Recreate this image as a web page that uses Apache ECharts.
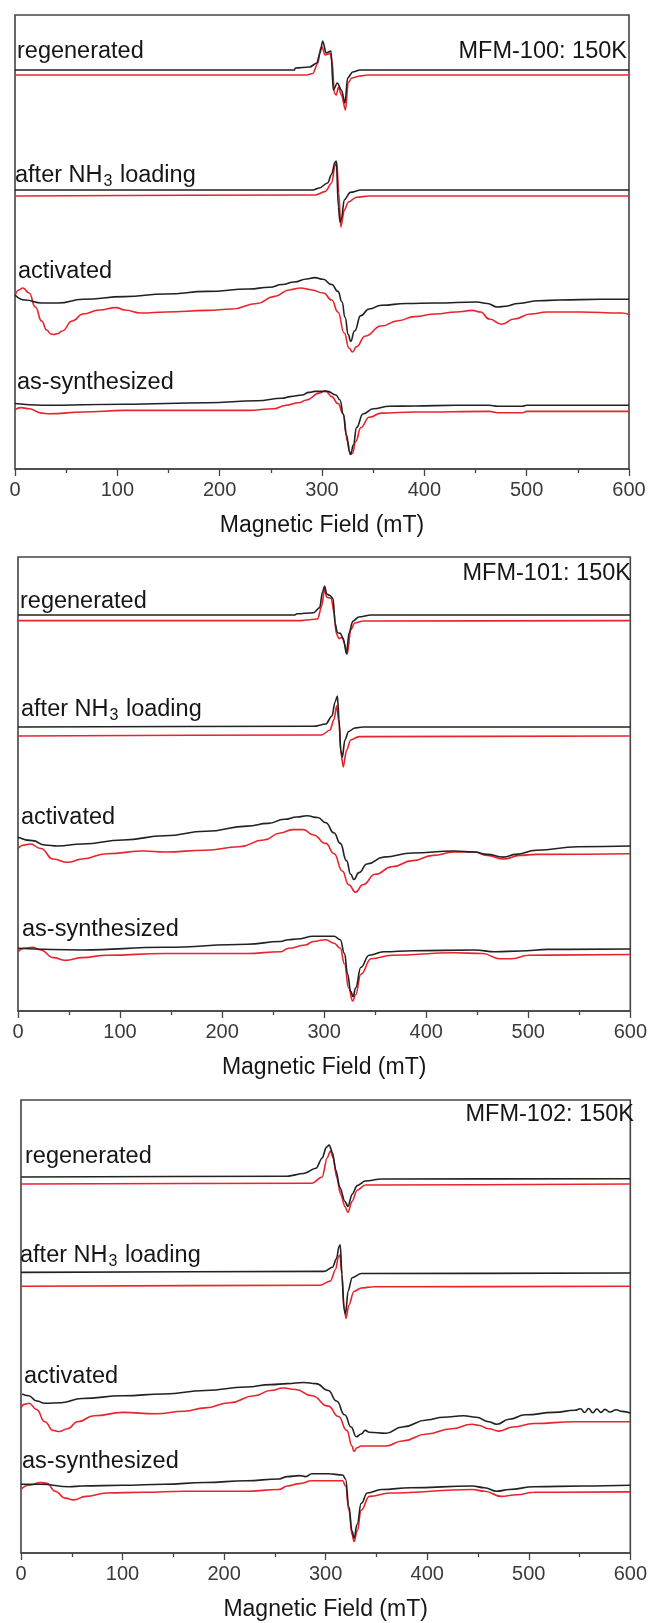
<!DOCTYPE html>
<html>
<head>
<meta charset="utf-8">
<script src="https://cdn.jsdelivr.net/npm/echarts@6/dist/echarts.min.js"></script>
<style>
  html, body { margin: 0; padding: 0; background: #ffffff; }
  #chart { width: 650px; height: 1623px; }
</style>
</head>
<body>
<div id="chart"></div>
<script>
// EPR spectra at 150 K, x = magnetic field (mT), y = offset first-derivative intensity (a.u.)
const fieldTicks = [0, 100, 200, 300, 400, 500, 600];
const stateLabels = ['regenerated', 'after NH{s|3} loading', 'activated', 'as-synthesized'];
const panelTitles = ['MFM-100: 150K', 'MFM-101: 150K', 'MFM-102: 150K'];

// ---- MFM-100 ----
const mfm100RegenBlack = [[0,399],[273,399],[274,401],[288,402],[295,406],[298,416],[300.7,428],[304,416],[308.8,418],[311,379],[315,386],[319,379],[322.5,366],[325,391],[330,397],[337,399],[600,399]];
const mfm100RegenRed = [[0,394],[285,394],[291,395.5],[296,406],[298.7,421],[300,422],[303,414],[308,415.5],[310,407],[312,376],[314,374],[316,382],[319,374],[323,359],[325.5,386],[329,391],[337,393],[345,394],[600,394]];
const mfm100NH3Black = [[0,279],[291,279],[297.4,281],[305.5,286],[309.5,295],[312.7,307],[314,308],[316,262],[317.6,247],[319,250],[321.7,269],[327.7,276.6],[338,279],[600,279]];
const mfm100NH3Red = [[0,273],[293.3,274],[303.4,277.6],[309.5,286],[312.7,303],[314.4,307],[316.4,276],[318.4,242],[321.7,258.6],[325.7,267],[333.8,271.7],[346,273],[600,273]];
const mfm100ActBlack = [[0,174],[9.7,169],[26,166],[42,166],[66.4,169.7],[107,172.4],[147.5,175],[188,177.6],[228.5,180],[248.7,181.7],[261,184.5],[273,187],[285,190],[293,191.4],[301,189.7],[309.5,184.5],[315.6,177.6],[319.6,167],[322.5,151.7],[325.7,134.5],[328,127.6],[331.8,138],[337.9,153.4],[346,160],[358,163.8],[382.4,165.5],[410.8,166],[451.3,167],[461.4,165.5],[471.5,162],[479.6,162.8],[491.8,165.5],[512,168.3],[532.3,169],[572.8,169.7],[600,169.7]];
const mfm100ActRed = [[0,173],[3.6,179],[7.7,181],[13.8,176],[19.9,162],[26,148],[31,139],[35,135],[38,134.5],[42,135.5],[46,138],[56,148],[66.4,155],[82.6,159],[98.8,161.4],[107,159],[123,156],[147.5,157],[188,158.6],[212,160],[236.6,165.5],[252.8,172.4],[269,179.3],[279,181],[289,179.3],[301.4,176],[309.5,169],[315.6,157],[321.7,136],[326.5,120.7],[329.8,117],[333.8,122.4],[342,132.8],[358,143],[374.3,148.3],[390.5,152.4],[410.8,155],[431,157],[447,158.6],[455,157],[463.4,150],[475.6,144.8],[487.7,150],[504,155],[520,157],[552.6,157],[593,156],[600,154.5]];
const mfm100SynBlack = [[0,65.5],[26,63.8],[107,64.8],[188,66.2],[236.6,68.3],[261,70.7],[269,72.4],[281,74],[287,76.6],[293,77.6],[305.5,77.6],[313.6,74],[317.6,69],[320.8,55],[323.7,34.5],[327,17.2],[328,14.5],[330.6,24],[333.8,41.4],[340,55],[350,60.3],[366,62.8],[390.5,63],[431,63.8],[463.4,63.8],[471.5,62.8],[495.8,62.8],[500,63.8],[600,63.8]];
const mfm100SynRed = [[0,59.3],[5.7,61.4],[13.8,60.3],[26,55.9],[34,55.2],[66.4,57],[107,58.6],[188,58.6],[228.5,58.6],[252.8,60.3],[265,63.8],[277,66.2],[285,69],[297.4,75.9],[303.4,78.3],[309.5,72.4],[315.6,65.5],[320.8,55],[324.9,27.6],[327.7,14.5],[329.8,15.5],[333,27.6],[337.9,41.4],[346,51.7],[358,55.9],[390.5,57],[463.4,57.6],[471.5,56.2],[495.8,56.2],[500,57.6],[600,57.6]];

// ---- MFM-101 ----
const mfm101RegenBlack = [[0,396],[271.3,396],[273.3,397.2],[289.5,398.3],[295.6,403.4],[298.4,419],[300.4,425],[302.5,417],[305.7,415.5],[308.9,412],[310.6,388],[313,378.3],[315.8,377.6],[318.7,372.5],[321.9,357],[324.3,377.6],[328,389.7],[334,394],[346,396],[600,396]];
const mfm101RegenRed = [[0,390.4],[277.4,390.4],[293.6,392],[297.6,405],[300.4,421.7],[302.5,413.8],[306.9,412.7],[309.7,398.3],[311.8,377.6],[314.6,372.5],[317.8,373.5],[319.9,367.3],[322.7,357],[326,381],[330,388],[338,390],[600,390.4]];
const mfm101NH3Black = [[0,284],[289.5,284.7],[301.6,287],[307.7,295],[310.6,308.8],[313,315],[314.6,291.6],[316.2,260.6],[317.8,253.7],[320.3,271],[323.9,279.5],[330,283],[338,284],[600,284]];
const mfm101NH3Red = [[0,275],[297.6,276],[305.7,281],[309.7,291.6],[312.2,305.3],[314.6,288],[316.6,257],[318.7,244],[321.9,260.6],[326,271],[334,274.4],[600,275]];
const mfm101ActBlack = [[0,173.8],[14.2,170.4],[26.3,166],[38.5,165],[62.8,167],[103,171],[143.7,175.2],[184,179.7],[224.7,184.9],[245,187.6],[261,191.7],[273.3,194],[283.4,195.2],[293.6,193.5],[301.6,188.3],[309.7,178],[315.8,167.6],[321.9,150.4],[326,136.7],[329.2,131.5],[334,138.4],[342,147],[358.3,153.9],[386.7,158],[427,160],[447.4,159],[459.6,156.6],[475.8,153.9],[488,156.6],[508,160.8],[548.6,164.2],[600,165]];
const mfm101ActRed = [[0,162.5],[6,166],[12,167],[22.3,162.5],[34.4,152],[48.6,148.7],[62.8,152],[87,157.3],[123.5,160],[143.7,159],[184,160.8],[216.6,164.2],[241,171],[257,178],[269,181.4],[279.4,181.4],[289.5,176],[301.6,167.6],[309.7,157.3],[317.8,140],[324,126.3],[330.8,118.8],[338,126.3],[350,136.7],[366.4,144.2],[386.7,150.4],[407,155.6],[427,159],[447.4,159],[459.6,155.6],[475.8,152],[492,155.6],[508,156.6],[600,157.3]];
const mfm101SynBlack = [[0,62.7],[62.8,61],[143.7,63.7],[224.7,66.8],[257,69.5],[265.2,71.3],[273.3,72],[289.5,74.7],[309.7,74.7],[315.8,71.3],[319.9,57.5],[323,36.8],[326,19.6],[328.4,14.5],[330.8,23],[336,43.7],[344,55.8],[358.3,59.2],[386.7,60.2],[447.4,61],[467.7,59.2],[492,60],[520,61.6],[600,62]];
const mfm101SynRed = [[0,59.2],[6,62.7],[14.2,63.7],[22.3,61],[34.4,53.4],[46.6,50.6],[62.8,53.4],[87,55.8],[143.7,57.5],[224.7,57.5],[257,59.2],[265.2,62.7],[281.4,66],[289.5,69.5],[301.6,71.3],[309.7,67.8],[315.8,62.7],[319.9,47.2],[324,23],[328,10],[330.8,16.2],[336,36.8],[346,52.3],[366.4,55.8],[427,58.2],[455.5,57.5],[471.7,52.3],[484,52.3],[500,55.8],[600,56.5]];

// ---- MFM-102 ----
const mfm102RegenBlack = [[0,376],[262,376.7],[278.4,379.5],[290.5,384.7],[296.6,395],[300.6,405.6],[303.5,408],[306.7,400.3],[310,383],[314,365.6],[318.9,351.7],[322,346.5],[326,358.7],[331,367.4],[339,372],[355.2,374],[600,374.3]];
const mfm102RegenRed = [[0,369],[286.5,369.8],[296.6,376],[301.4,395],[304.7,402],[307.5,395],[310.7,376],[314.8,358.7],[318.9,346.5],[322,340.6],[326,351.7],[331,362.8],[339,368],[600,369]];
const mfm102NH3Black = [[0,280.6],[298.6,281.6],[306.7,285.8],[310.7,294.4],[313.2,306.6],[314.4,308.3],[316,278.8],[318,244],[319.6,239],[322,261.5],[326,275.3],[335,279.5],[600,280]];
const mfm102NH3Red = [[0,266.7],[294.5,267.7],[304.7,272],[310,284],[312.4,296],[314,298],[316,278.8],[318,247.6],[320,234.4],[322.8,247.6],[327.7,261.5],[335,265],[347,266.3],[600,266.7]];
const mfm102ActBlack = [[1.2,159],[7.3,157.3],[15.4,152],[23.5,149.7],[39.7,150.3],[60,154.5],[100.3,157.3],[140.8,159],[181.3,162.5],[221.7,166],[246,168.4],[262.2,169.4],[278.4,170.5],[290.5,169.4],[302.6,162.5],[310.7,152],[318.8,138.2],[325,126],[330.2,116.3],[335,119],[339,122.6],[343,120.8],[359.3,119.8],[375.5,126],[399.7,133],[416,135.8],[436,137.2],[448.3,135.8],[460.4,131.3],[468.5,128.8],[480.7,133.7],[496.8,138.2],[525,140.6],[545.4,142.7],[551,144.2],[555,140.5],[559,144.5],[563,140.2],[567,144],[571,140.6],[575,143.6],[580,141],[586,143.2],[592,141.6],[600,140]];
const mfm102ActRed = [[0,145],[3.2,148.6],[8,149.7],[15.4,143.4],[23.5,131.3],[31.6,122.6],[37.6,121.5],[45.7,124.3],[55.8,131.3],[72,137.2],[100.3,140.6],[132.7,139.2],[161,141.7],[181.3,145.1],[205.5,150.3],[229.8,157.3],[246,162.5],[258.1,165],[270.3,163.5],[286.5,157.3],[302.6,146.9],[312.7,136.5],[320.8,122.6],[326,107],[327.7,101.7],[331,105.2],[335,107],[359.3,107],[375.5,112],[399.7,119],[424,124.3],[444.3,128.8],[450.3,127.8],[460.4,124.3],[470.5,121.9],[484.7,126],[505,129.5],[545.4,131.3],[600,131.3]];
const mfm102SynBlack = [[0,68.75],[19.4,68.75],[47.7,66.3],[59.9,67],[100.3,67.7],[140.8,68.75],[181.3,70.5],[221.7,72.2],[254,74],[262.2,76.4],[274.3,77.4],[280.4,76.4],[286.5,79.2],[302.6,79.2],[316.8,78],[319.6,74],[322.9,46.2],[326,21.9],[328,15],[331,28.8],[335,49.7],[341,60],[355,63.5],[383.6,65.3],[444.3,67],[456.4,65.3],[468.5,61.8],[480.7,63.5],[505,66.3],[553.5,67],[600,67.7]];
const mfm102SynRed = [[0,63.5],[7.3,67.7],[19.4,70.5],[25.5,69.8],[33.6,61.8],[43.7,54.9],[51.8,53.1],[63.9,56.6],[84.2,60],[120.6,60.8],[161,61.8],[221.7,61.8],[254,63.5],[262.2,67],[274.3,69.4],[286.5,72.2],[302.6,72.2],[316.8,72.2],[319.6,67],[322.9,42.7],[326,18.4],[328,11.5],[331,21.9],[335,42.7],[343,56.6],[363.3,60],[444.3,63.5],[456.4,61.8],[472.6,56.6],[488.8,58.3],[505,60.8],[600,61.1]];

// Panel frames (px) and label anchor positions
const panels = [
  { grid: { left: 15, top: 15, width: 614, height: 454 }, yMax: 454,
    traces: [[mfm100RegenBlack, mfm100RegenRed], [mfm100NH3Black, mfm100NH3Red], [mfm100ActBlack, mfm100ActRed], [mfm100SynBlack, mfm100SynRed]],
    labelPos: [[17, 52], [15, 176], [18, 272], [17, 383]], titlePos: [627, 52] },
  { grid: { left: 18, top: 557, width: 614, height: 454 }, yMax: 454,
    traces: [[mfm101RegenBlack, mfm101RegenRed], [mfm101NH3Black, mfm101NH3Red], [mfm101ActBlack, mfm101ActRed], [mfm101SynBlack, mfm101SynRed]],
    labelPos: [[20, 602], [21, 710], [21, 818], [22, 930]], titlePos: [631, 574] },
  { grid: { left: 21, top: 1100, width: 616, height: 453 }, yMax: 453,
    traces: [[mfm102RegenBlack, mfm102RegenRed], [mfm102NH3Black, mfm102NH3Red], [mfm102ActBlack, mfm102ActRed], [mfm102SynBlack, mfm102SynRed]],
    labelPos: [[25, 1157], [20, 1256], [24, 1377], [22, 1462]], titlePos: [634, 1115] }
];

const FONT = '"Liberation Sans", Arial, sans-serif';
const AXIS = '#444';
const TEXT = '#161616';
const BLACK = '#222222';
const RED = '#e8242c';

// broad traces (activated, as-synthesized) are drawn with stronger curve smoothing
const smoothByState = [0.3, 0.3, 0.5, 0.45];

const grids = [], xAxes = [], yAxes = [], series = [], graphics = [];

panels.forEach((p, i) => {
  grids.push(Object.assign({ show: true, borderColor: AXIS, borderWidth: 1.6, backgroundColor: 'transparent', containLabel: false }, p.grid));
  xAxes.push({
    gridIndex: i, type: 'value', min: fieldTicks[0], max: fieldTicks[fieldTicks.length - 1], interval: 100,
    axisLine: { show: true, lineStyle: { color: AXIS, width: 1.6 } },
    axisTick: { show: true, inside: false, length: 7, lineStyle: { color: AXIS, width: 1.3 } },
    minorTick: { show: true, splitNumber: 2, length: 4, lineStyle: { color: AXIS, width: 1.3 } },
    splitLine: { show: false }, minorSplitLine: { show: false },
    axisLabel: { show: true, color: '#3a3a3a', fontSize: 20, fontFamily: FONT, margin: 11, showMinLabel: true, showMaxLabel: true },
    name: 'Magnetic Field (mT)', nameLocation: 'middle', nameGap: 45,
    nameTextStyle: { color: TEXT, fontSize: 23, fontFamily: FONT }
  });
  yAxes.push({ gridIndex: i, type: 'value', min: 0, max: p.yMax, show: false });

  p.traces.forEach((pair, k) => {
    const names = ['black', 'red'];
    // red drawn first, black over it
    [1, 0].forEach(j => {
      series.push({
        type: 'line', xAxisIndex: i, yAxisIndex: i,
        name: panelTitles[i] + ' ' + stateLabels[k] + ' ' + names[j],
        data: pair[j], showSymbol: false, symbol: 'none',
        smooth: smoothByState[k], smoothMonotone: 'x',
        lineStyle: { color: j === 0 ? BLACK : RED, width: 1.6 },
        z: j === 0 ? 3 : 2, silent: true, animation: false
      });
    });
    graphics.push({
      type: 'text', x: p.labelPos[k][0], y: p.labelPos[k][1], z: 10,
      style: {
        text: stateLabels[k], fill: TEXT, font: '23.5px ' + FONT,
        verticalAlign: 'middle', align: 'left',
        rich: { s: { fontSize: 16, fontFamily: FONT, fill: TEXT, lineHeight: 17, padding: [11, 1, 0, 1] } }
      }
    });
  });
  graphics.push({
    type: 'text', x: p.titlePos[0], y: p.titlePos[1], z: 10,
    style: { text: panelTitles[i], fill: TEXT, font: '23.5px ' + FONT, align: 'right', verticalAlign: 'middle' }
  });
});

const chart = echarts.init(document.getElementById('chart'), null, { renderer: 'canvas', width: 650, height: 1623 });
chart.setOption({
  backgroundColor: '#ffffff',
  animation: false,
  grid: grids, xAxis: xAxes, yAxis: yAxes, series: series,
  graphic: graphics
});
</script>
</body>
</html>
